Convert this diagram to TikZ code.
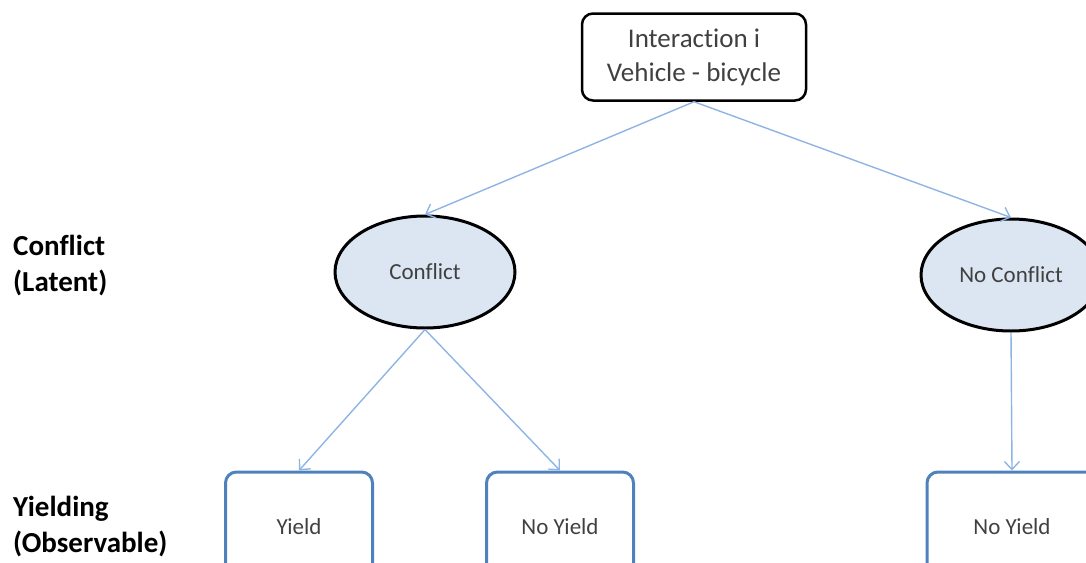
\documentclass[tikz,border=0pt]{standalone}
\usepackage{fontspec}
\setmainfont{Carlito}[Ligatures=NoCommon]
\usetikzlibrary{shapes.geometric,arrows.meta}
\definecolor{linkblue}{HTML}{8EB4E3}
\definecolor{boxblue}{HTML}{4F81BD}
\definecolor{latentfill}{HTML}{DCE6F2}
\definecolor{txtgray}{HTML}{404040}

\tikzset{
  rootbox/.style = {draw=black, line width=2.5pt, rounded corners=11pt, align=center,
    minimum width=224pt, minimum height=87pt, text=txtgray,
    font=\fontsize{27}{34}\selectfont},
  latent/.style = {ellipse, draw=black, line width=3pt, fill=latentfill, text=txtgray,
    minimum width=180pt, minimum height=112pt, inner sep=0pt,
    font=\fontsize{23}{28}\selectfont},
  observed/.style = {draw=boxblue, line width=3pt, rounded corners=11pt, text=txtgray,
    minimum width=147pt, minimum height=110pt, inner sep=0pt,
    font=\fontsize{23}{28}\selectfont},
  level/.style = {anchor=west, align=left, inner sep=0pt,
    font=\bfseries\fontsize{29}{36}\selectfont}
}

\begin{document}
\begin{tikzpicture}[x=1pt, y=-1pt]
  \useasboundingbox (0,0) rectangle (1086,562);
  \clip (0,0) rectangle (1086,562);
  % levels
  \node[level] (lat) at (13,266) {Conflict\\(Latent)};
  \node[level] (obs) at (13,527) {Yielding\\(Observable)};
  % tree
  \node[rootbox] (root) at (694,57) {Interaction i\\Vehicle - bicycle};
  \node[latent] (conf) at (425,272) {Conflict};
  \node[latent] (noconf) at (1011,275) {No Conflict};
  \node[observed] (yield) at (299,527) {Yield};
  \node[observed] (noyield) at (560,527) {No Yield};
  \node[observed, minimum width=170pt] (noyieldr) at (1012,527) {No Yield};
  \path[-{Straight Barb[length=8pt,width=15pt]}, linkblue, line width=1.4pt]
  (root.south) edge (conf.north)
  edge (noconf.north)
  (conf.south) edge (yield.north)
  edge (noyield.north)
  (noconf.south) edge (noyieldr.north);
\end{tikzpicture}
\end{document}
